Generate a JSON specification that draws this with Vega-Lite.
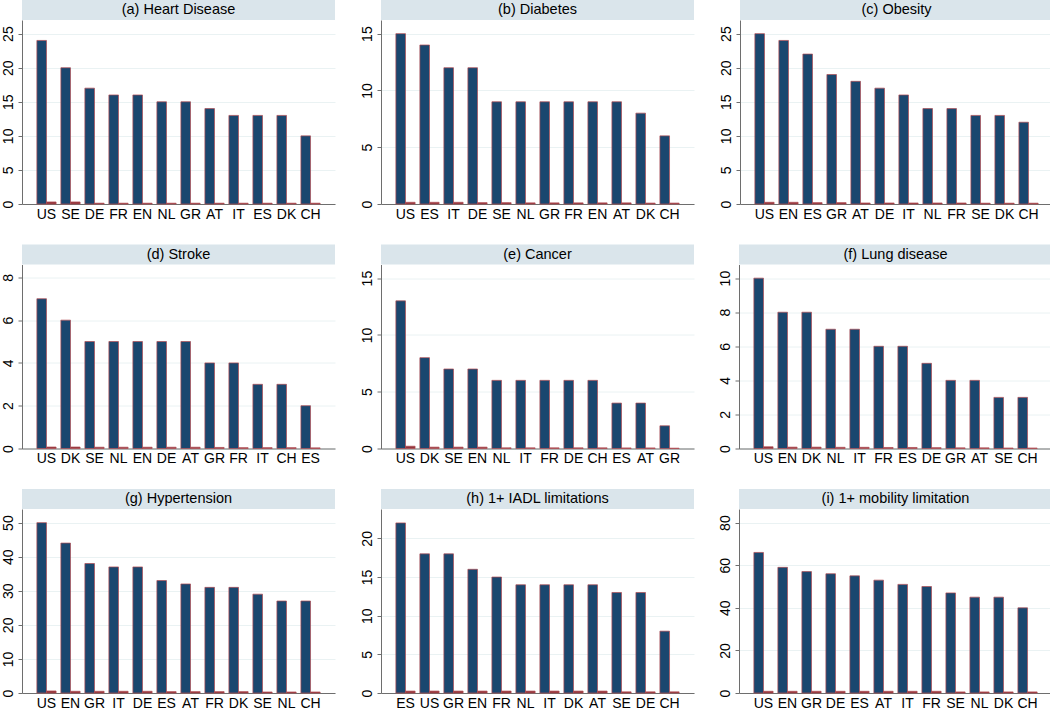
{
  "$schema": "https://vega.github.io/schema/vega-lite/v6.json",
  "background": "white",
  "padding": {"left": 0, "top": 0, "right": 0, "bottom": 0},
  "datasets": {
    "titles": [
      {"panel": "a", "title": "(a) Heart Disease"},
      {"panel": "b", "title": "(b) Diabetes"},
      {"panel": "c", "title": "(c) Obesity"},
      {"panel": "d", "title": "(d) Stroke"},
      {"panel": "e", "title": "(e) Cancer"},
      {"panel": "f", "title": "(f) Lung disease"},
      {"panel": "g", "title": "(g) Hypertension"},
      {"panel": "h", "title": "(h) 1+ IADL limitations"},
      {"panel": "i", "title": "(i) 1+ mobility limitation"}
    ],
    "rates": [
      {"panel": "a", "country": "US", "navy": 24, "red": 0.3},
      {"panel": "a", "country": "SE", "navy": 20, "red": 0.3},
      {"panel": "a", "country": "DE", "navy": 17, "red": 0.12},
      {"panel": "a", "country": "FR", "navy": 16, "red": 0.12},
      {"panel": "a", "country": "EN", "navy": 16, "red": 0.12},
      {"panel": "a", "country": "NL", "navy": 15, "red": 0.12},
      {"panel": "a", "country": "GR", "navy": 15, "red": 0.12},
      {"panel": "a", "country": "AT", "navy": 14, "red": 0.12},
      {"panel": "a", "country": "IT", "navy": 13, "red": 0.12},
      {"panel": "a", "country": "ES", "navy": 13, "red": 0.12},
      {"panel": "a", "country": "DK", "navy": 13, "red": 0.12},
      {"panel": "a", "country": "CH", "navy": 10, "red": 0.12},
      {"panel": "b", "country": "US", "navy": 15, "red": 0.15},
      {"panel": "b", "country": "ES", "navy": 14, "red": 0.15},
      {"panel": "b", "country": "IT", "navy": 12, "red": 0.15},
      {"panel": "b", "country": "DE", "navy": 12, "red": 0.12},
      {"panel": "b", "country": "SE", "navy": 9, "red": 0.12},
      {"panel": "b", "country": "NL", "navy": 9, "red": 0.1},
      {"panel": "b", "country": "GR", "navy": 9, "red": 0.1},
      {"panel": "b", "country": "FR", "navy": 9, "red": 0.1},
      {"panel": "b", "country": "EN", "navy": 9, "red": 0.1},
      {"panel": "b", "country": "AT", "navy": 9, "red": 0.1},
      {"panel": "b", "country": "DK", "navy": 8, "red": 0.08},
      {"panel": "b", "country": "CH", "navy": 6, "red": 0.08},
      {"panel": "c", "country": "US", "navy": 25, "red": 0.25},
      {"panel": "c", "country": "EN", "navy": 24, "red": 0.25},
      {"panel": "c", "country": "ES", "navy": 22, "red": 0.2},
      {"panel": "c", "country": "GR", "navy": 19, "red": 0.2},
      {"panel": "c", "country": "AT", "navy": 18, "red": 0.15},
      {"panel": "c", "country": "DE", "navy": 17, "red": 0.15},
      {"panel": "c", "country": "IT", "navy": 16, "red": 0.15},
      {"panel": "c", "country": "NL", "navy": 14, "red": 0.15},
      {"panel": "c", "country": "FR", "navy": 14, "red": 0.15},
      {"panel": "c", "country": "SE", "navy": 13, "red": 0.12},
      {"panel": "c", "country": "DK", "navy": 13, "red": 0.12},
      {"panel": "c", "country": "CH", "navy": 12, "red": 0.12},
      {"panel": "d", "country": "US", "navy": 7, "red": 0.07},
      {"panel": "d", "country": "DK", "navy": 6, "red": 0.07},
      {"panel": "d", "country": "SE", "navy": 5, "red": 0.06},
      {"panel": "d", "country": "NL", "navy": 5, "red": 0.06},
      {"panel": "d", "country": "EN", "navy": 5, "red": 0.06},
      {"panel": "d", "country": "DE", "navy": 5, "red": 0.06},
      {"panel": "d", "country": "AT", "navy": 5, "red": 0.06},
      {"panel": "d", "country": "GR", "navy": 4, "red": 0.05},
      {"panel": "d", "country": "FR", "navy": 4, "red": 0.04},
      {"panel": "d", "country": "IT", "navy": 3, "red": 0.04},
      {"panel": "d", "country": "CH", "navy": 3, "red": 0.04},
      {"panel": "d", "country": "ES", "navy": 2, "red": 0.03},
      {"panel": "e", "country": "US", "navy": 13, "red": 0.2},
      {"panel": "e", "country": "DK", "navy": 8, "red": 0.12},
      {"panel": "e", "country": "SE", "navy": 7, "red": 0.12},
      {"panel": "e", "country": "EN", "navy": 7, "red": 0.12},
      {"panel": "e", "country": "NL", "navy": 6, "red": 0.06},
      {"panel": "e", "country": "IT", "navy": 6, "red": 0.06},
      {"panel": "e", "country": "FR", "navy": 6, "red": 0.06},
      {"panel": "e", "country": "DE", "navy": 6, "red": 0.06},
      {"panel": "e", "country": "CH", "navy": 6, "red": 0.06},
      {"panel": "e", "country": "ES", "navy": 4, "red": 0.05},
      {"panel": "e", "country": "AT", "navy": 4, "red": 0.05},
      {"panel": "e", "country": "GR", "navy": 2, "red": 0.03},
      {"panel": "f", "country": "US", "navy": 10, "red": 0.1},
      {"panel": "f", "country": "EN", "navy": 8, "red": 0.08},
      {"panel": "f", "country": "DK", "navy": 8, "red": 0.08},
      {"panel": "f", "country": "NL", "navy": 7, "red": 0.07},
      {"panel": "f", "country": "IT", "navy": 7, "red": 0.07},
      {"panel": "f", "country": "FR", "navy": 6, "red": 0.06},
      {"panel": "f", "country": "ES", "navy": 6, "red": 0.06},
      {"panel": "f", "country": "DE", "navy": 5, "red": 0.05},
      {"panel": "f", "country": "GR", "navy": 4, "red": 0.04},
      {"panel": "f", "country": "AT", "navy": 4, "red": 0.04},
      {"panel": "f", "country": "SE", "navy": 3, "red": 0.03},
      {"panel": "f", "country": "CH", "navy": 3, "red": 0.03},
      {"panel": "g", "country": "US", "navy": 50, "red": 0.6},
      {"panel": "g", "country": "EN", "navy": 44, "red": 0.5},
      {"panel": "g", "country": "GR", "navy": 38, "red": 0.5},
      {"panel": "g", "country": "IT", "navy": 37, "red": 0.5},
      {"panel": "g", "country": "DE", "navy": 37, "red": 0.5},
      {"panel": "g", "country": "ES", "navy": 33, "red": 0.4},
      {"panel": "g", "country": "AT", "navy": 32, "red": 0.4},
      {"panel": "g", "country": "FR", "navy": 31, "red": 0.4},
      {"panel": "g", "country": "DK", "navy": 31, "red": 0.4},
      {"panel": "g", "country": "SE", "navy": 29, "red": 0.3},
      {"panel": "g", "country": "NL", "navy": 27, "red": 0.3},
      {"panel": "g", "country": "CH", "navy": 27, "red": 0.3},
      {"panel": "h", "country": "ES", "navy": 22, "red": 0.25},
      {"panel": "h", "country": "US", "navy": 18, "red": 0.25},
      {"panel": "h", "country": "GR", "navy": 18, "red": 0.25},
      {"panel": "h", "country": "EN", "navy": 16, "red": 0.25},
      {"panel": "h", "country": "FR", "navy": 15, "red": 0.25},
      {"panel": "h", "country": "NL", "navy": 14, "red": 0.25},
      {"panel": "h", "country": "IT", "navy": 14, "red": 0.25},
      {"panel": "h", "country": "DK", "navy": 14, "red": 0.25},
      {"panel": "h", "country": "AT", "navy": 14, "red": 0.25},
      {"panel": "h", "country": "SE", "navy": 13, "red": 0.15},
      {"panel": "h", "country": "DE", "navy": 13, "red": 0.15},
      {"panel": "h", "country": "CH", "navy": 8, "red": 0.15},
      {"panel": "i", "country": "US", "navy": 66, "red": 0.8},
      {"panel": "i", "country": "EN", "navy": 59, "red": 0.8},
      {"panel": "i", "country": "GR", "navy": 57, "red": 0.8},
      {"panel": "i", "country": "DE", "navy": 56, "red": 0.8},
      {"panel": "i", "country": "ES", "navy": 55, "red": 0.8},
      {"panel": "i", "country": "AT", "navy": 53, "red": 0.8},
      {"panel": "i", "country": "IT", "navy": 51, "red": 0.8},
      {"panel": "i", "country": "FR", "navy": 50, "red": 0.8},
      {"panel": "i", "country": "SE", "navy": 47, "red": 0.5},
      {"panel": "i", "country": "NL", "navy": 45, "red": 0.5},
      {"panel": "i", "country": "DK", "navy": 45, "red": 0.5},
      {"panel": "i", "country": "CH", "navy": 40, "red": 0.5}
    ]
  },
  "spacing": 23.5,
  "vconcat": [
    {
      "spacing": 24,
      "hconcat": [
        {
          "spacing": 0,
          "vconcat": [
            {
              "width": 313, "height": 20,
              "view": {"fill": "#dae5eb", "stroke": null},
              "data": {"name": "titles"},
              "transform": [{"filter": "datum.panel == 'a'"}],
              "mark": {"type": "text"},
              "encoding": {"text": {"field": "title", "type": "nominal"}}
            },
            {
              "width": 313, "height": 184,
              "data": {"name": "rates"},
              "transform": [{"filter": "datum.panel == 'a'"}, {"fold": ["navy", "red"], "as": ["series", "pct"]}],
              "mark": {"type": "bar"},
              "encoding": {
                "x": {"field": "country", "type": "nominal", "sort": null, "title": null},
                "xOffset": {"field": "series", "type": "nominal"},
                "y": {"field": "pct", "type": "quantitative", "title": null, "scale": {"domain": [0, 27], "nice": false}, "axis": {"values": [0, 5, 10, 15, 20, 25]}},
                "color": {"field": "series", "type": "nominal", "legend": null}
              }
            }
          ]
        },
        {
          "spacing": 0,
          "vconcat": [
            {
              "width": 313, "height": 20,
              "view": {"fill": "#dae5eb", "stroke": null},
              "data": {"name": "titles"},
              "transform": [{"filter": "datum.panel == 'b'"}],
              "mark": {"type": "text"},
              "encoding": {"text": {"field": "title", "type": "nominal"}}
            },
            {
              "width": 313, "height": 184,
              "data": {"name": "rates"},
              "transform": [{"filter": "datum.panel == 'b'"}, {"fold": ["navy", "red"], "as": ["series", "pct"]}],
              "mark": {"type": "bar"},
              "encoding": {
                "x": {"field": "country", "type": "nominal", "sort": null, "title": null},
                "xOffset": {"field": "series", "type": "nominal"},
                "y": {"field": "pct", "type": "quantitative", "title": null, "scale": {"domain": [0, 16.2], "nice": false}, "axis": {"values": [0, 5, 10, 15]}},
                "color": {"field": "series", "type": "nominal", "legend": null}
              }
            }
          ]
        },
        {
          "spacing": 0,
          "vconcat": [
            {
              "width": 313, "height": 20,
              "view": {"fill": "#dae5eb", "stroke": null},
              "data": {"name": "titles"},
              "transform": [{"filter": "datum.panel == 'c'"}],
              "mark": {"type": "text"},
              "encoding": {"text": {"field": "title", "type": "nominal"}}
            },
            {
              "width": 313, "height": 184,
              "data": {"name": "rates"},
              "transform": [{"filter": "datum.panel == 'c'"}, {"fold": ["navy", "red"], "as": ["series", "pct"]}],
              "mark": {"type": "bar"},
              "encoding": {
                "x": {"field": "country", "type": "nominal", "sort": null, "title": null},
                "xOffset": {"field": "series", "type": "nominal"},
                "y": {"field": "pct", "type": "quantitative", "title": null, "scale": {"domain": [0, 27], "nice": false}, "axis": {"values": [0, 5, 10, 15, 20, 25]}},
                "color": {"field": "series", "type": "nominal", "legend": null}
              }
            }
          ]
        }
      ]
    },
    {
      "spacing": 24,
      "hconcat": [
        {
          "spacing": 0,
          "vconcat": [
            {
              "width": 313, "height": 20,
              "view": {"fill": "#dae5eb", "stroke": null},
              "data": {"name": "titles"},
              "transform": [{"filter": "datum.panel == 'd'"}],
              "mark": {"type": "text"},
              "encoding": {"text": {"field": "title", "type": "nominal"}}
            },
            {
              "width": 313, "height": 184,
              "data": {"name": "rates"},
              "transform": [{"filter": "datum.panel == 'd'"}, {"fold": ["navy", "red"], "as": ["series", "pct"]}],
              "mark": {"type": "bar"},
              "encoding": {
                "x": {"field": "country", "type": "nominal", "sort": null, "title": null},
                "xOffset": {"field": "series", "type": "nominal"},
                "y": {"field": "pct", "type": "quantitative", "title": null, "scale": {"domain": [0, 8.6], "nice": false}, "axis": {"values": [0, 2, 4, 6, 8]}},
                "color": {"field": "series", "type": "nominal", "legend": null}
              }
            }
          ]
        },
        {
          "spacing": 0,
          "vconcat": [
            {
              "width": 313, "height": 20,
              "view": {"fill": "#dae5eb", "stroke": null},
              "data": {"name": "titles"},
              "transform": [{"filter": "datum.panel == 'e'"}],
              "mark": {"type": "text"},
              "encoding": {"text": {"field": "title", "type": "nominal"}}
            },
            {
              "width": 313, "height": 184,
              "data": {"name": "rates"},
              "transform": [{"filter": "datum.panel == 'e'"}, {"fold": ["navy", "red"], "as": ["series", "pct"]}],
              "mark": {"type": "bar"},
              "encoding": {
                "x": {"field": "country", "type": "nominal", "sort": null, "title": null},
                "xOffset": {"field": "series", "type": "nominal"},
                "y": {"field": "pct", "type": "quantitative", "title": null, "scale": {"domain": [0, 16.2], "nice": false}, "axis": {"values": [0, 5, 10, 15]}},
                "color": {"field": "series", "type": "nominal", "legend": null}
              }
            }
          ]
        },
        {
          "spacing": 0,
          "vconcat": [
            {
              "width": 313, "height": 20,
              "view": {"fill": "#dae5eb", "stroke": null},
              "data": {"name": "titles"},
              "transform": [{"filter": "datum.panel == 'f'"}],
              "mark": {"type": "text"},
              "encoding": {"text": {"field": "title", "type": "nominal"}}
            },
            {
              "width": 313, "height": 184,
              "data": {"name": "rates"},
              "transform": [{"filter": "datum.panel == 'f'"}, {"fold": ["navy", "red"], "as": ["series", "pct"]}],
              "mark": {"type": "bar"},
              "encoding": {
                "x": {"field": "country", "type": "nominal", "sort": null, "title": null},
                "xOffset": {"field": "series", "type": "nominal"},
                "y": {"field": "pct", "type": "quantitative", "title": null, "scale": {"domain": [0, 10.8], "nice": false}, "axis": {"values": [0, 2, 4, 6, 8, 10]}},
                "color": {"field": "series", "type": "nominal", "legend": null}
              }
            }
          ]
        }
      ]
    },
    {
      "spacing": 24,
      "hconcat": [
        {
          "spacing": 0,
          "vconcat": [
            {
              "width": 313, "height": 20,
              "view": {"fill": "#dae5eb", "stroke": null},
              "data": {"name": "titles"},
              "transform": [{"filter": "datum.panel == 'g'"}],
              "mark": {"type": "text"},
              "encoding": {"text": {"field": "title", "type": "nominal"}}
            },
            {
              "width": 313, "height": 184,
              "data": {"name": "rates"},
              "transform": [{"filter": "datum.panel == 'g'"}, {"fold": ["navy", "red"], "as": ["series", "pct"]}],
              "mark": {"type": "bar"},
              "encoding": {
                "x": {"field": "country", "type": "nominal", "sort": null, "title": null},
                "xOffset": {"field": "series", "type": "nominal"},
                "y": {"field": "pct", "type": "quantitative", "title": null, "scale": {"domain": [0, 54], "nice": false}, "axis": {"values": [0, 10, 20, 30, 40, 50]}},
                "color": {"field": "series", "type": "nominal", "legend": null}
              }
            }
          ]
        },
        {
          "spacing": 0,
          "vconcat": [
            {
              "width": 313, "height": 20,
              "view": {"fill": "#dae5eb", "stroke": null},
              "data": {"name": "titles"},
              "transform": [{"filter": "datum.panel == 'h'"}],
              "mark": {"type": "text"},
              "encoding": {"text": {"field": "title", "type": "nominal"}}
            },
            {
              "width": 313, "height": 184,
              "data": {"name": "rates"},
              "transform": [{"filter": "datum.panel == 'h'"}, {"fold": ["navy", "red"], "as": ["series", "pct"]}],
              "mark": {"type": "bar"},
              "encoding": {
                "x": {"field": "country", "type": "nominal", "sort": null, "title": null},
                "xOffset": {"field": "series", "type": "nominal"},
                "y": {"field": "pct", "type": "quantitative", "title": null, "scale": {"domain": [0, 23.8], "nice": false}, "axis": {"values": [0, 5, 10, 15, 20]}},
                "color": {"field": "series", "type": "nominal", "legend": null}
              }
            }
          ]
        },
        {
          "spacing": 0,
          "vconcat": [
            {
              "width": 313, "height": 20,
              "view": {"fill": "#dae5eb", "stroke": null},
              "data": {"name": "titles"},
              "transform": [{"filter": "datum.panel == 'i'"}],
              "mark": {"type": "text"},
              "encoding": {"text": {"field": "title", "type": "nominal"}}
            },
            {
              "width": 313, "height": 184,
              "data": {"name": "rates"},
              "transform": [{"filter": "datum.panel == 'i'"}, {"fold": ["navy", "red"], "as": ["series", "pct"]}],
              "mark": {"type": "bar"},
              "encoding": {
                "x": {"field": "country", "type": "nominal", "sort": null, "title": null},
                "xOffset": {"field": "series", "type": "nominal"},
                "y": {"field": "pct", "type": "quantitative", "title": null, "scale": {"domain": [0, 86.4], "nice": false}, "axis": {"values": [0, 20, 40, 60, 80]}},
                "color": {"field": "series", "type": "nominal", "legend": null}
              }
            }
          ]
        }
      ]
    }
  ],
  "config": {
    "view": {"stroke": null},
    "font": "Liberation Sans",
    "text": {"font": "Liberation Sans", "fontSize": 14.5, "color": "black", "baseline": "middle"},
    "bar": {"stroke": "#b04a52", "strokeWidth": 0.7},
    "range": {"category": ["#1a476f", "#90353b"]},
    "scale": {
      "bandPaddingInner": 0.2, "bandPaddingOuter": 0.62,
      "bandWithNestedOffsetPaddingInner": 0.2, "bandWithNestedOffsetPaddingOuter": 0.62,
      "offsetBandPaddingInner": 0, "offsetBandPaddingOuter": 0
    },
    "axisX": {
      "labelAngle": 0, "ticks": false, "grid": false, "domainColor": "#6e6e6e",
      "labelFont": "Liberation Sans", "labelFontSize": 14, "labelColor": "black", "labelPadding": 3
    },
    "axisY": {
      "labelAngle": 270, "labelAlign": "center", "labelBaseline": "alphabetic",
      "labelFont": "Liberation Sans", "labelFontSize": 14, "labelColor": "black", "labelPadding": 6,
      "tickSize": 4, "tickColor": "#6e6e6e", "domainColor": "#6e6e6e",
      "grid": true, "gridColor": "#eaf2f3", "labelFlush": false, "labelOverlap": false
    }
  }
}
